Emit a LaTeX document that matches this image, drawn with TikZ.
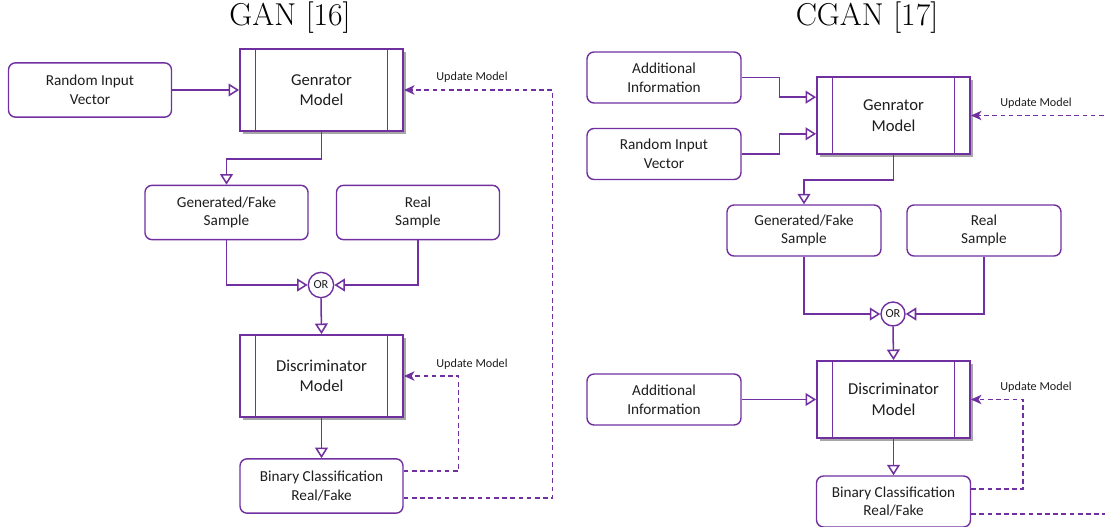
\documentclass[tikz,border=0pt]{standalone}
\usepackage{fontspec}
\setsansfont{Carlito}
\usetikzlibrary{arrows.meta,shadows}
\definecolor{vio}{RGB}{112,48,160}
\definecolor{txt}{RGB}{30,30,30}

\begin{document}
\begin{tikzpicture}[x=0.03cm, y=-0.03cm,
    box/.style={draw=vio, line width=1.2pt, rounded corners=6pt, fill=white, text=txt,
                align=center, font=\sffamily\fontsize{13}{16}\selectfont},
    lbox/.style={box, minimum width=4.89cm, minimum height=1.63cm},
    rbox/.style={box, minimum width=4.62cm, minimum height=1.53cm},
    model/.style={draw=vio, line width=1.6pt, fill=white, text=txt, align=center,
                font=\sffamily\fontsize{14.2}{17.5}\selectfont,
                drop shadow={shadow xshift=0.08cm, shadow yshift=-0.08cm, fill=black!35, opacity=1},
                path picture={
                  \draw[vio, line width=1.4pt] ([xshift=0.47cm]path picture bounding box.north west) -- ([xshift=0.47cm]path picture bounding box.south west);
                  \draw[vio, line width=1.4pt] ([xshift=-0.47cm]path picture bounding box.north east) -- ([xshift=-0.47cm]path picture bounding box.south east);}},
    ornode/.style={circle, draw=vio, line width=1.2pt, fill=white, inner sep=0pt,
                minimum size=0.76cm, text=txt, font=\sffamily\fontsize{10.5}{12}\selectfont},
    arr/.style={draw=vio, line width=1.3pt, -{Triangle[open, length=9pt, width=11pt]}},
    upd/.style={draw=vio, line width=1.3pt, dashed, dash pattern=on 4pt off 3pt,
                -{Stealth[length=9pt, width=8pt, inset=2.5pt, fill=vio]}},
    lab/.style={text=txt, font=\sffamily\fontsize{10.4}{12}\selectfont},
    ttl/.style={text=black, font=\fontsize{27}{30}\selectfont}]

\useasboundingbox (0,0) rectangle (1105,526);

% GAN
\node[ttl] (t1) at (290,18) {GAN [16]};
\node[lbox] (rin) at (90,90) {Random Input\\Vector};
\node[model, minimum width=4.89cm, minimum height=2.46cm] (gen) at (321.5,90) {Genrator\\Model};
\node[lbox] (fake) at (226.5,212.5) {Generated/Fake\\Sample};
\node[lbox] (real) at (418,212.5) {Real\\Sample};
\node[ornode] (or) at (321,285) {OR};
\node[model, minimum width=4.89cm, minimum height=2.46cm] (dis) at (321.5,376) {Discriminator\\Model};
\node[lbox] (bin) at (321.5,486) {Binary Classification\\Real/Fake};
\node[lab] (u1) at (472,77) {Update Model};
\node[lab] (u2) at (472,364) {Update Model};

\draw[arr] (rin.east) -- (gen.west);
\draw[arr] (gen.south) -- ++(0,27) -| (fake.north);
\draw[arr] (fake.south) |- (or.west);
\draw[arr] (real.south) |- (or.east);
\draw[arr] (or.south) -- (dis.north);
\draw[arr] (dis.south) -- (bin.north);
\draw[upd] ([yshift=0.45cm]bin.east) -- ++(55,0) |- (dis.east);
\draw[upd] ([yshift=-0.36cm]bin.east) -- ++(149,0) |- (gen.east);

% CGAN
\node[ttl] (t2) at (867,18) {CGAN [17]};
\node[rbox] (cadd) at (664,77.5) {Additional\\Information};
\node[rbox] (crin) at (664,154) {Random Input\\Vector};
\node[model, minimum width=4.59cm, minimum height=2.31cm] (cgen) at (893.5,115.5) {Genrator\\Model};
\node[rbox] (cfake) at (804,230.5) {Generated/Fake\\Sample};
\node[rbox] (creal) at (984,230.5) {Real\\Sample};
\node[ornode, minimum size=0.72cm] (cor) at (893,314) {OR};
\node[model, minimum width=4.59cm, minimum height=2.31cm] (cdis) at (893.5,399.5) {Discriminator\\Model};
\node[rbox] (cadd2) at (664,399.5) {Additional\\Information};
\node[rbox] (cbin) at (893.5,501.5) {Binary Classification\\Real/Fake};
\node[lab] (u3) at (1036,103) {Update Model};
\node[lab] (u4) at (1036,387) {Update Model};

\draw[arr] (cadd.east) -- ++(38,0) |- ([yshift=0.55cm]cgen.west);
\draw[arr] (crin.east) -- ++(38,0) |- ([yshift=-0.55cm]cgen.west);
\draw[arr] (cgen.south) -- ++(0,25) -| (cfake.north);
\draw[arr] (cfake.south) |- (cor.west);
\draw[arr] (creal.south) |- (cor.east);
\draw[arr] (cor.south) -- (cdis.north);
\draw[arr] (cadd2.east) -- (cdis.west);
\draw[arr] (cdis.south) -- (cbin.north);
\draw[upd] ([yshift=0.37cm]cbin.east) -- ++(52,0) |- (cdis.east);
\draw[upd] ([yshift=-0.37cm]cbin.east) -- ++(150,0) |- (cgen.east);
\end{tikzpicture}
\end{document}
